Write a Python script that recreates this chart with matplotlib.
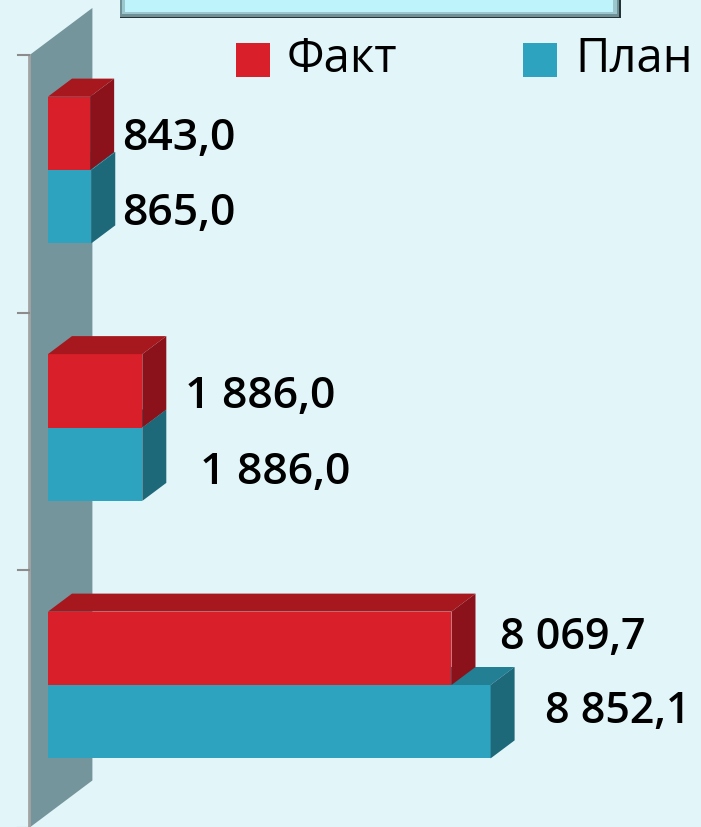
import matplotlib.pyplot as plt
from matplotlib.patches import Polygon, Rectangle
from matplotlib.transforms import IdentityTransform

plt.rcParams['font.family'] = ['Open Sans', 'DejaVu Sans']

# данные
series_names = ['Факт', 'План']
fact = [843.0, 1886.0, 8069.7]
plan = [865.0, 1886.0, 8852.1]

# стиль
BG = '#e2f5f9'
RED = ('#d91f2a', '#a6171e', '#8b121a')    # перед, верх, бок
BLUE = ('#2da3c0', '#237f94', '#1d6879')
WALL = '#74959b'
DX, DY = 24, 18          # глубина 3D в пикселях
BAR_H = 0.285
# сдвиги подписей (пиксели: вправо, вниз)
fact_nudge = [(8, -1), (19, -0.5), (24.5, -17)]
plan_nudge = [(7, 0.5), (34, 2.5), (30.5, -16.5)]
label_size = [32, 32, 31]

W, H = 701, 828
fig = plt.figure(figsize=(W / 100, H / 100), dpi=100)
fig.patch.set_facecolor(BG)
ax = fig.add_axes([48 / W, 13.25 / H, 500 / W, 772.5 / H])
ax.set_xlim(0, 10000)
ax.set_ylim(2.5, -0.5)
ax.axis('off')


def shift(x, y, dx, dy):
    px, py = ax.transData.transform((x, y))
    return ax.transData.inverted().transform((px + dx, py + dy))


def back(x, y, k=1.0):
    return shift(x, y, k * DX, k * DY)


# стенка слева
wall = [back(0, -0.5, -0.79), back(0, -0.5, 1.85), back(0, 2.5, 1.85), back(0, 2.5, -0.79)]
ax.add_patch(Polygon(wall, closed=True, facecolor=WALL, edgecolor='none', clip_on=False, zorder=1))
p0, p1 = back(0, -0.5, -0.79), back(0, 2.5, -0.79)
ax.plot([p0[0], p1[0]], [p0[1], p1[1]], color='#a3a3a3', lw=2, clip_on=False, zorder=2)
for yb in [-0.5, 0.5, 1.5, 2.5]:
    a = back(0, yb, -0.79)
    b = shift(a[0], a[1], -11, 0)
    ax.plot([a[0], b[0]], [a[1], b[1]], color='#8c8c8c', lw=1.5, clip_on=False, zorder=2)

z = 3
for i in range(len(fact)):
    for vals, off, cols, nudge in [(plan, 0.1425, BLUE, plan_nudge), (fact, -0.1425, RED, fact_nudge)]:
        v = vals[i]
        yc = i + off
        y0, y1 = yc - BAR_H / 2, yc + BAR_H / 2
        ax.barh(yc, v, height=BAR_H, color=cols[0], zorder=z, clip_on=False)
        top = [(0, y0), (v, y0), back(v, y0), back(0, y0)]
        side = [(v, y0), (v, y1), back(v, y1), back(v, y0)]
        ax.add_patch(Polygon(top, closed=True, facecolor=cols[1], edgecolor='none', clip_on=False, zorder=z + 0.1))
        ax.add_patch(Polygon(side, closed=True, facecolor=cols[2], edgecolor='none', clip_on=False, zorder=z + 0.2))
        txt = f"{v:,.1f}".replace(",", " ").replace(".", ",")
        ax.annotate(txt, xy=(v, yc), xytext=(DX + nudge[i][0], -nudge[i][1]),
                    textcoords='offset pixels', ha='left', va='center_baseline',
                    fontsize=label_size[i], fontweight='semibold', color='black',
                    zorder=20, annotation_clip=False)
        z += 1

# рамка заголовка (обрезана сверху)
ident = IdentityTransform()
fig.add_artist(Rectangle((120, H - 19), 501, 40, facecolor='#263234', edgecolor='none', transform=ident))
fig.add_artist(Rectangle((120, H - 18), 499, 40, facecolor='#6e9197', edgecolor='none', transform=ident))
fig.add_artist(Rectangle((122, H - 15), 495, 40, facecolor='#9cc6cd', edgecolor='none', transform=ident))
fig.add_artist(Rectangle((125, H - 13), 488, 40, facecolor='#bff3fc', edgecolor='none', transform=ident))

# легенда
for name, col, sx, tx in [(series_names[0], RED[0], 236, 287), (series_names[1], BLUE[0], 523, 575)]:
    fig.add_artist(Rectangle((sx, H - 78), 34, 34, facecolor=col, edgecolor='none', transform=ident))
    fig.text(tx / W, (H - 72) / H, name, fontsize=34, ha='left', va='baseline', color='black')

fig.savefig('out.png', dpi=100, facecolor=BG)
